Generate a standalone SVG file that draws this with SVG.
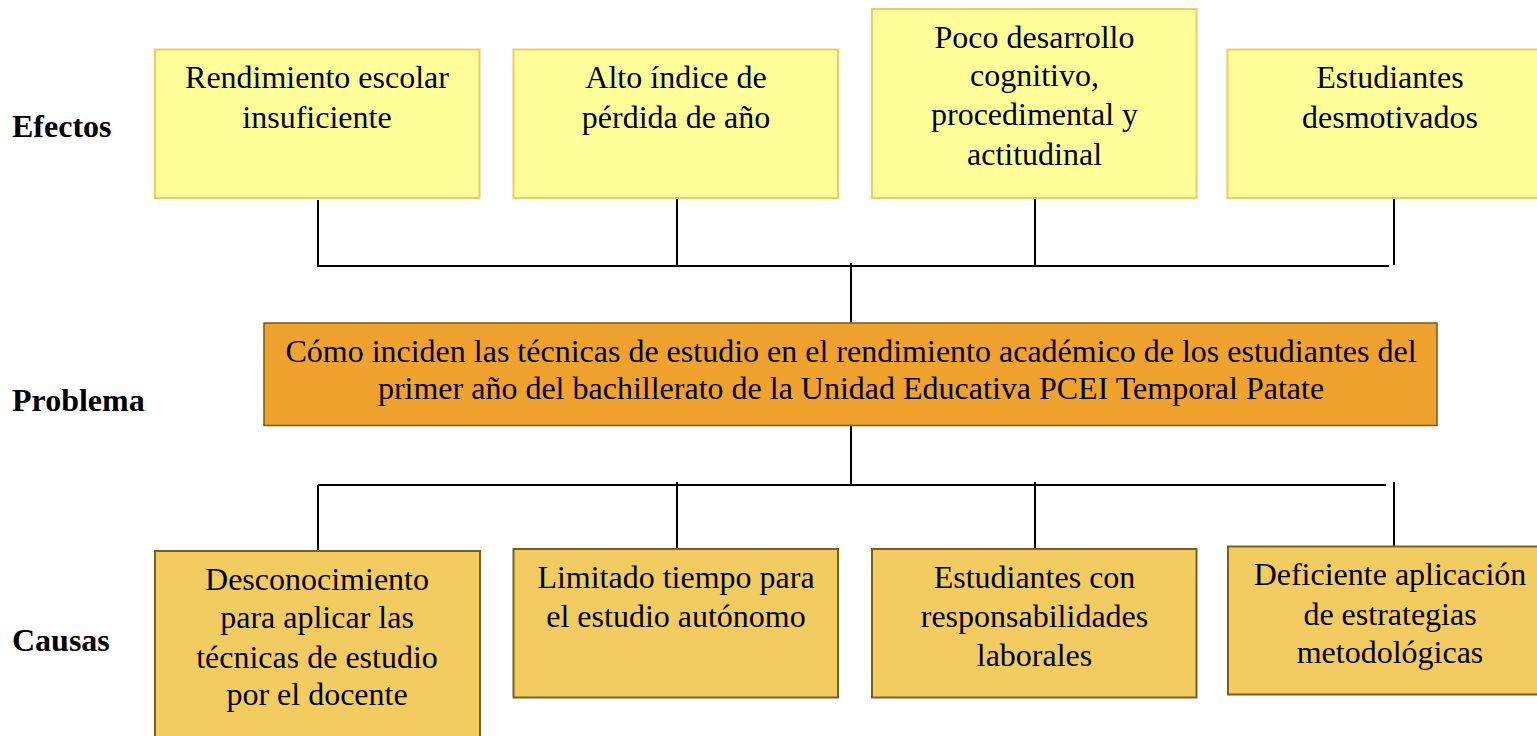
<svg xmlns="http://www.w3.org/2000/svg" width="1537" height="736" viewBox="0 0 1537 736">
<style>
text{font-family:"Liberation Serif","Times New Roman",serif;font-size:32px;fill:#000}
.t{text-anchor:middle}
.lbl{font-weight:bold}
.eff{fill:#FFFF99;stroke:#F5C862;stroke-width:2}
.prob{fill:#F0A22F;stroke:#7A5A14;stroke-width:1.5}
.cau{fill:#F2CC60;stroke:#7A6020;stroke-width:2}
.ln{stroke:#000;stroke-width:2;fill:none}
</style>
<rect width="1537" height="736" fill="#fff"/>
<g id="labels">
<text class="lbl" x="12" y="137">Efectos</text>
<text class="lbl" x="12" y="411">Problema</text>
<text class="lbl" x="12" y="651">Causas</text>
</g>
<g id="connectors">
<line class="ln" x1="318" y1="200" x2="318" y2="267"/>
<line class="ln" x1="677" y1="198" x2="677" y2="265"/>
<line class="ln" x1="1035" y1="198" x2="1035" y2="265"/>
<line class="ln" x1="1394" y1="198" x2="1394" y2="265"/>
<line class="ln" x1="319" y1="266" x2="1389" y2="266"/>
<line class="ln" x1="851" y1="263" x2="851" y2="323"/>
<line class="ln" x1="851" y1="426" x2="851" y2="484"/>
<line class="ln" x1="318" y1="485" x2="1386" y2="485"/>
<line class="ln" x1="318" y1="485" x2="318" y2="551"/>
<line class="ln" x1="677" y1="482" x2="677" y2="548"/>
<line class="ln" x1="1035" y1="482" x2="1035" y2="548"/>
<line class="ln" x1="1394" y1="482" x2="1394" y2="547"/>
</g>
<g id="efecto1">
<rect class="eff" x="155" y="49.5" width="324.5" height="148.5"/>
<text class="t" x="317" y="88">Rendimiento escolar</text>
<text class="t" x="317" y="128">insuficiente</text>
</g>
<g id="efecto2">
<rect class="eff" x="513.5" y="49.5" width="324.5" height="148.5"/>
<text class="t" x="676" y="88">Alto índice de</text>
<text class="t" x="676" y="128">pérdida de año</text>
</g>
<g id="efecto3">
<rect class="eff" x="872" y="9" width="324.5" height="189"/>
<text class="t" x="1034.5" y="48">Poco desarrollo</text>
<text class="t" x="1034.5" y="86">cognitivo,</text>
<text class="t" x="1034.5" y="125">procedimental y</text>
<text class="t" x="1034.5" y="165">actitudinal</text>
</g>
<g id="efecto4">
<rect class="eff" x="1227.5" y="49.5" width="324.5" height="148.5"/>
<text class="t" x="1390" y="88">Estudiantes</text>
<text class="t" x="1390" y="128">desmotivados</text>
</g>
<g id="problema">
<rect class="prob" x="264" y="323" width="1173" height="102.5"/>
<text class="t" x="851" y="362">Cómo inciden las técnicas de estudio en el rendimiento académico de los estudiantes del</text>
<text class="t" x="851" y="399">primer año del bachillerato de la Unidad Educativa PCEI Temporal Patate</text>
</g>
<g id="causa1">
<rect class="cau" x="155" y="551" width="325" height="200"/>
<text class="t" x="317" y="590">Desconocimiento</text>
<text class="t" x="317" y="628">para aplicar las</text>
<text class="t" x="317" y="668">técnicas de estudio</text>
<text class="t" x="317" y="705">por el docente</text>
</g>
<g id="causa2">
<rect class="cau" x="513.5" y="549" width="324.5" height="148.5"/>
<text class="t" x="676" y="588">Limitado tiempo para</text>
<text class="t" x="676" y="627">el estudio autónomo</text>
</g>
<g id="causa3">
<rect class="cau" x="872" y="549" width="324.5" height="148.5"/>
<text class="t" x="1034.5" y="588">Estudiantes con</text>
<text class="t" x="1034.5" y="627">responsabilidades</text>
<text class="t" x="1034.5" y="666">laborales</text>
</g>
<g id="causa4">
<rect class="cau" x="1228" y="546.5" width="324.5" height="148"/>
<text class="t" x="1390" y="585">Deficiente aplicación</text>
<text class="t" x="1390" y="625">de estrategias</text>
<text class="t" x="1390" y="663">metodológicas</text>
</g>
</svg>
